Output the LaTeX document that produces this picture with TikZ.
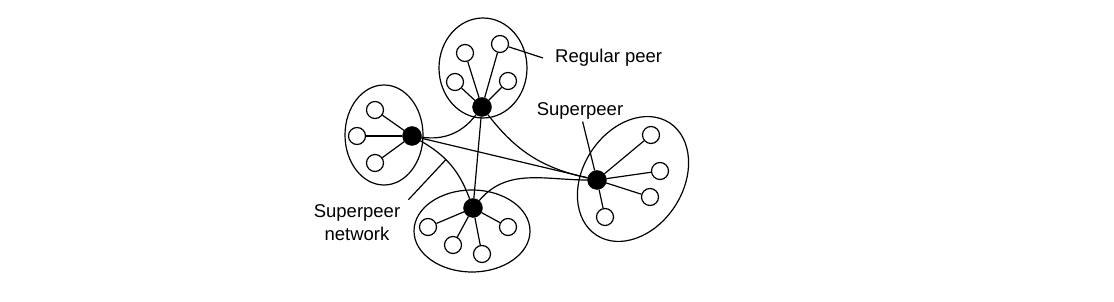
\documentclass[tikz,border=0pt]{standalone}
\usepackage{fontspec}
\setmainfont{Liberation Sans}
\usetikzlibrary{shapes.geometric}

\begin{document}
\begin{tikzpicture}[x=1pt,y=1pt,
  peer/.style={circle, draw, fill=white, line width=1.2pt, inner sep=0pt, minimum size=17pt},
  superpeer/.style={circle, draw, fill=black, inner sep=0pt, minimum size=19pt},
  cluster/.style={ellipse, draw, line width=1.2pt, inner sep=0pt},
  link/.style={line width=1.2pt},
  lbl/.style={font=\fontsize{18.5}{23}\selectfont, inner sep=2pt}]
\useasboundingbox (0,0) rectangle (1114,302);

% clusters
\node[cluster, minimum width=88pt, minimum height=100pt] (ct) at (483,234) {};
\node[cluster, minimum width=78pt, minimum height=100pt] (cl) at (384,167) {};
\node[cluster, minimum width=116pt, minimum height=82pt] (cb) at (472,71) {};
\node[cluster, minimum width=134pt, minimum height=100pt, rotate=57] (cr) at (633,123) {};

% superpeers
\node[superpeer] (T) at (482,195) {};
\node[superpeer] (L) at (412,166) {};
\node[superpeer] (B) at (473,94) {};
\node[superpeer] (R) at (597,122) {};

% regular peers
\node[peer] (t1) at (465,249) {};
\node[peer] (t2) at (500,258) {};
\node[peer] (t3) at (455,220) {};
\node[peer] (t4) at (508,221) {};
\node[peer] (l1) at (375,192) {};
\node[peer] (l2) at (357,166) {};
\node[peer] (l3) at (375,139) {};
\node[peer] (b1) at (428,75) {};
\node[peer] (b2) at (453,57) {};
\node[peer] (b3) at (482,48) {};
\node[peer] (b4) at (508,75) {};
\node[peer] (r1) at (651,167) {};
\node[peer] (r2) at (660,131) {};
\node[peer] (r3) at (650,105) {};
\node[peer] (r4) at (605,85) {};

% spokes
\foreach \p in {t1,t2,t3,t4} \draw[link] (T) -- (\p);
\foreach \p in {l1,l2,l3} \draw[link] (L) -- (\p);
\foreach \p in {b1,b2,b3,b4} \draw[link] (B) -- (\p);
\foreach \p in {r1,r2,r3,r4} \draw[link] (R) -- (\p);

% superpeer network
\draw[link] (L) to[bend right=30] (T);
\draw[link] (L) -- (R);
\draw[link] (L) to[bend left=20] coordinate[pos=0.4] (lb) (B);
\draw[link] (T) -- (B);
\draw[link] (T) to[bend right=20] (R);
\draw[link] (B) to[out=50, in=180] (R);

% labels
\node[lbl, anchor=west] (rplbl) at (553,244) {Regular peer};
\draw[link] (t2) -- ([xshift=-10pt]rplbl.west);
\node[lbl] (splbl) at (580,191) {Superpeer};
\draw[link] (splbl) -- (R);
\node[lbl, align=center] (snlbl) at (357,79) {Superpeer\\network};
\draw[link] ([shift={(6pt,3pt)}]snlbl.north east) -- (lb);
\end{tikzpicture}
\end{document}
